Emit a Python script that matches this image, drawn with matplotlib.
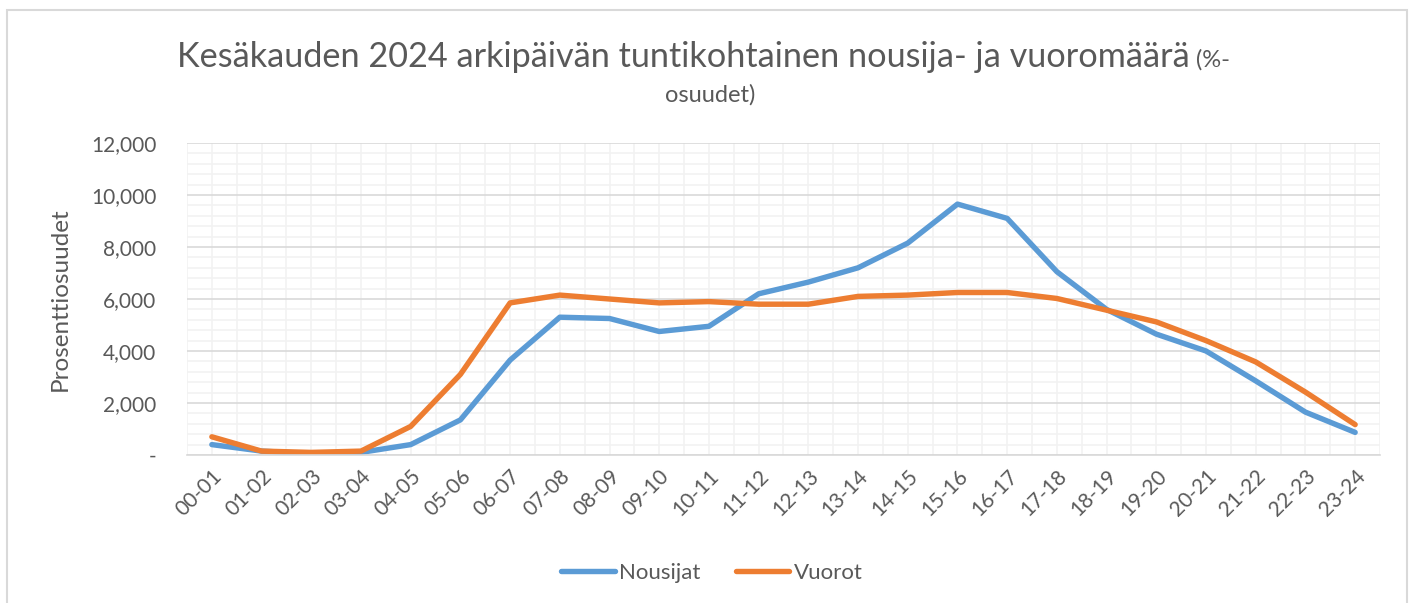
import matplotlib
matplotlib.use("Agg")
import matplotlib.pyplot as plt
from matplotlib.ticker import MultipleLocator, FuncFormatter
from matplotlib.patches import Rectangle

categories = ["00-01", "01-02", "02-03", "03-04", "04-05", "05-06", "06-07", "07-08",
              "08-09", "09-10", "10-11", "11-12", "12-13", "13-14", "14-15", "15-16",
              "16-17", "17-18", "18-19", "19-20", "20-21", "21-22", "22-23", "23-24"]
nousijat = [400, 150, 50, 100, 400, 1350, 3650, 5300, 5250, 4750, 4950, 6200,
            6650, 7200, 8150, 9650, 9100, 7050, 5600, 4650, 4000, 2850, 1650, 870]
vuorot = [700, 150, 100, 150, 1100, 3100, 5850, 6150, 6000, 5850, 5900, 5800,
          5800, 6100, 6150, 6250, 6250, 6020, 5570, 5120, 4400, 3580, 2420, 1170]

W, H = 1413, 603
fig = plt.figure(figsize=(W / 100, H / 100), dpi=100)
plt.rcParams['font.family'] = ['Lato', 'DejaVu Sans']
txt = "#595959"

# chart frame
fig.patches.append(Rectangle((7 / W, -0.05), 1400 / W, 1.05 - 10 / H, transform=fig.transFigure,
                             fill=False, edgecolor="#D9D9D9", linewidth=1.5))

L, R, T, B = 187, 1380, 143, 455
ax = fig.add_axes([L / W, 1 - B / H, (R - L) / W, (B - T) / H])

x = list(range(len(categories)))
ax.plot(x, nousijat, color="#5B9BD5", lw=3.9, label="Nousijat", solid_capstyle="round")
ax.plot(x, vuorot, color="#ED7D31", lw=3.9, label="Vuorot", solid_capstyle="round")

ax.set_xlim(-0.5, len(categories) - 0.5)
ax.set_ylim(0, 12000)
ax.yaxis.set_major_locator(MultipleLocator(2000))
ax.yaxis.set_minor_locator(MultipleLocator(400))
ax.set_xticks(x)
ax.set_xticks([i - 0.5 for i in range(len(categories) + 1)], minor=True)
ax.set_xticklabels(categories, rotation=45, ha="right", rotation_mode="anchor",
                   fontsize=15, color=txt)
ax.yaxis.set_major_formatter(FuncFormatter(lambda v, p: "-" if v == 0 else f"{int(v):,}"))
ax.tick_params(axis="y", labelsize=15, labelcolor=txt, length=0, which="both", pad=22)
ax.tick_params(axis="x", length=0, which="both", pad=8)
for lbl in ax.get_yticklabels():
    lbl.set_horizontalalignment("right")

ax.grid(True, which="minor", color="#F2F2F2", lw=1.2)
ax.grid(True, which="major", axis="x", color="#F2F2F2", lw=1.2)
ax.grid(True, which="major", axis="y", color="#D9D9D9", lw=1.2)
ax.set_axisbelow(True)
for s in ["top", "right", "left"]:
    ax.spines[s].set_visible(False)
ax.spines["bottom"].set_color("#D9D9D9")
ax.spines["bottom"].set_linewidth(1.2)

ax.set_ylabel("Prosenttiosuudet", fontsize=17.5, color=txt)
ax.yaxis.set_label_coords((60 - L) / (R - L), 0.5)
ax.yaxis.label.set_verticalalignment("center")

# title: large part + small part
fig.canvas.draw()
r = fig.canvas.get_renderer()
t1 = fig.text(177 / W, 1 - 57 / H, "Kesäkauden 2024 arkipäivän tuntikohtainen nousija- ja vuoromäärä",
              fontsize=24.7, color=txt, ha="left", va="center")
bb = t1.get_window_extent(renderer=r)
fig.text((bb.x1 + 6) / W, 1 - 60 / H, "(%-", fontsize=17, color=txt, ha="left", va="center")
fig.text(710 / W, 1 - 95 / H, "osuudet)", fontsize=17, color=txt, ha="center", va="center")

leg = fig.legend(loc="center", bbox_to_anchor=(712 / W, 1 - 573 / H), ncol=2, frameon=False,
                 fontsize=16, handlelength=2.4, handletextpad=0.2, columnspacing=1.6,
                 labelcolor=txt)

fig.savefig("out.png", dpi=100)
